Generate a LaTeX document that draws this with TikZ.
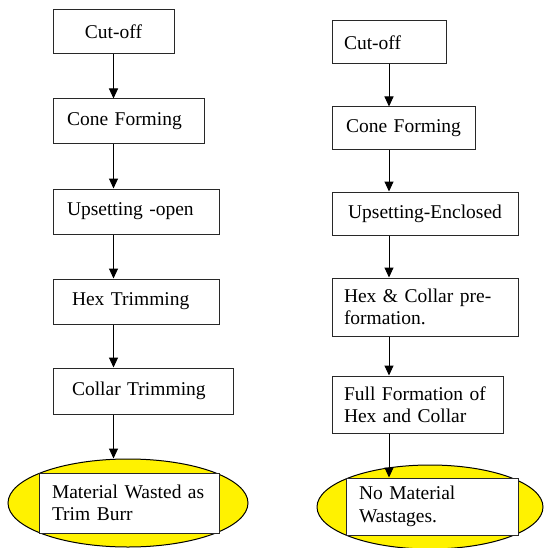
\documentclass[tikz,border=0pt]{standalone}
\usepackage{fontspec}
\setmainfont{Liberation Serif}
\usetikzlibrary{arrows.meta,shapes.geometric}
\definecolor{edge}{RGB}{40,40,40}
\tikzset{
  box/.style={draw=edge, line width=1pt, fill=white, rectangle, inner ysep=0pt, align=left,
    font=\fontsize{19.5}{22.5}\selectfont},
  cbox/.style={box, align=center},
  goal/.style={draw=black, line width=1pt, fill=yellow, ellipse, inner sep=0pt},
  flow/.style={draw=black, line width=1pt, -{Triangle[width=9pt,length=10pt]}}
}
\begin{document}
\begin{tikzpicture}[x=1pt,y=-1pt]
\useasboundingbox (0,0) rectangle (544,548);
% left column
\node[cbox, text width=111pt, inner xsep=5pt, minimum height=44pt] (L1) at (113.5,32) {Cut-off};
\node[box, text width=123pt, inner xsep=14pt, minimum height=45pt] (L2) at (128.5,121.5) {Cone Forming};
\node[box, text width=138pt, inner xsep=14pt, minimum height=45pt] (L3) at (136,211.5) {Upsetting -open};
\node[box, text width=128pt, inner xsep=19pt, minimum height=45pt] (L4) at (136,301.5) {Hex Trimming};
\node[box, text width=142pt, inner xsep=19pt, minimum height=46pt] (L5) at (143,391) {Collar Trimming};
\node[goal, minimum width=240pt, minimum height=88pt] (E1) at (128,503) {};
\node[box, text width=154pt, inner xsep=13pt, minimum height=60pt] (L6) at (129,503) {\mbox{Material Wasted as}\\Trim Burr};
% right column
\node[box, text width=90pt, inner xsep=12pt, minimum height=43pt] (R1) at (389,42.5) {Cut-off};
\node[cbox, text width=133pt, inner xsep=5pt, minimum height=43pt] (R2) at (403.5,128.5) {Cone Forming};
\node[cbox, text width=176pt, inner xsep=5pt, minimum height=43pt] (R3) at (425,213.5) {Upsetting-Enclosed};
\node[box, text width=162pt, inner xsep=12pt, minimum height=58pt] (R4) at (425,307) {\mbox{Hex \& Collar pre-}\\formation.};
\node[box, text width=147pt, inner xsep=12pt, minimum height=57pt] (R5) at (417.5,404.5) {\mbox{Full Formation of}\\Hex and Collar};
\node[goal, minimum width=226pt, minimum height=84pt] (E2) at (430,507) {};
\node[box, text width=146pt, inner xsep=13pt, minimum height=57pt] (R6) at (432,506.5) {No Material\\Wastages.};
% connectors
\draw[flow] (L1.south) -- (L1.south |- L2.north);
\draw[flow] (L1.south |- L2.south) -- (L1.south |- L3.north);
\draw[flow] (L1.south |- L3.south) -- (L1.south |- L4.north);
\draw[flow] (L1.south |- L4.south) -- (L1.south |- L5.north);
\draw[flow] (L1.south |- L5.south) -- (L1.south |- E1.north);
\draw[flow] (R1.south) -- (R1.south |- R2.north);
\draw[flow] (R1.south |- R2.south) -- (R1.south |- R3.north);
\draw[flow] (R1.south |- R3.south) -- (R1.south |- R4.north);
\draw[flow] (R1.south |- R4.south) -- (R1.south |- R5.north);
\draw[flow] (R1.south |- R5.south) -- (R1.south |- R6.north);
\end{tikzpicture}
\end{document}
